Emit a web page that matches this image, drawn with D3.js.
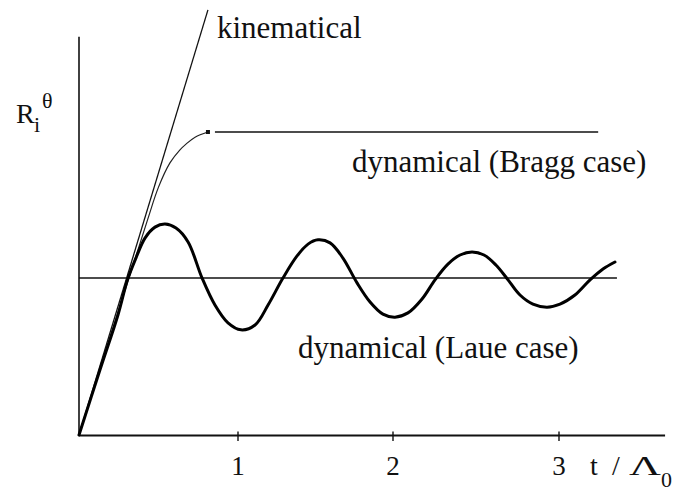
<!DOCTYPE html>
<html>
<head>
<meta charset="utf-8">
<script src="https://cdn.jsdelivr.net/npm/d3@7"></script>
<style>
  .lbl { font-family: "Liberation Serif", "Times New Roman", serif; fill: #111; }
</style>
</head>
<body style="margin:0">
<svg id="chart" width="674" height="488"></svg>
<script>
// Integrated reflectivity vs. crystal thickness t / Λ0

// x-axis ticks (thickness in units of extinction length)
const xTicks = [1, 2, 3];
const xTickLabels = ["1", "2", "3"];

// kinematical approximation: straight line growth
const kinT = [0, 0.811];
const kinR = [0, 1.403];

// dynamical, Bragg case: saturates at R = 1
const braggT = [0, 0.151, 0.314, 0.431, 0.500, 0.572, 0.635, 0.673, 0.730, 0.811];
const braggR = [0, 0.248, 0.518, 0.710, 0.818, 0.898, 0.941, 0.960, 0.983, 1.000];
const plateauT = [0.855, 3.236];
const plateauR = [1.0, 1.0];

// dynamical, Laue case: oscillates about the mean level (Pendellösung)
const laueT = [0, 0.132, 0.245, 0.305, 0.358, 0.415, 0.478, 0.541, 0.610, 0.686,
  0.774, 0.855, 0.937, 1.019, 1.110, 1.194, 1.290, 1.381, 1.452, 1.516,
  1.594, 1.677, 1.768, 1.852, 1.935, 2.012, 2.090, 2.175, 2.253, 2.331,
  2.404, 2.476, 2.548, 2.620, 2.693, 2.765, 2.843, 2.928, 3.006, 3.096,
  3.187, 3.265, 3.337];
const laueR = [0, 0.215, 0.396, 0.512, 0.584, 0.650, 0.686, 0.696, 0.683, 0.637,
  0.518, 0.429, 0.370, 0.347, 0.363, 0.429, 0.518, 0.591, 0.630, 0.644,
  0.634, 0.584, 0.502, 0.439, 0.399, 0.389, 0.403, 0.449, 0.512, 0.564,
  0.594, 0.604, 0.594, 0.561, 0.512, 0.462, 0.432, 0.422, 0.432, 0.462,
  0.512, 0.548, 0.571];
const meanT = [0, 3.349];
const meanR = [0.518, 0.518];

// axis extents
const xAxisMax = 3.639;
const yAxisMax = 1.314;

const svg = d3.select("#chart");

const x = d3.scaleLinear().domain([0, 1, 2, 3]).range([79, 238, 393, 559]);
const y = d3.scaleLinear().domain([0, 1]).range([435, 132]);

const zip = (ts, rs) => ts.map((t, i) => [t, rs[i]]);
const lineStraight = d3.line().x(d => x(d[0])).y(d => y(d[1]));
const lineSmooth = d3.line().x(d => x(d[0])).y(d => y(d[1])).curve(d3.curveCatmullRom.alpha(0.5));

function label(xp, yp, size, str) {
  return svg.append("text")
    .attr("class", "lbl")
    .attr("x", xp).attr("y", yp)
    .attr("font-size", size)
    .text(str);
}

// axes
svg.append("line")
  .attr("x1", x(0)).attr("x2", x(0))
  .attr("y1", y(0)).attr("y2", y(yAxisMax))
  .attr("stroke", "#111").attr("stroke-width", 1.6);
svg.append("line")
  .attr("x1", x(0)).attr("x2", x(xAxisMax))
  .attr("y1", y(0) + 0.5).attr("y2", y(0) + 0.5)
  .attr("stroke", "#111").attr("stroke-width", 1.8);

const ticks = svg.append("g");
ticks.selectAll("line").data(xTicks).join("line")
  .attr("x1", d => x(d)).attr("x2", d => x(d))
  .attr("y1", y(0) - 3.5).attr("y2", y(0) + 6)
  .attr("stroke", "#111").attr("stroke-width", 1.4);
xTicks.forEach((d, i) => {
  label(x(d), 475, 27, xTickLabels[i]).attr("text-anchor", "middle");
});

// curves
svg.append("path").datum(zip(kinT, kinR))
  .attr("d", lineStraight).attr("fill", "none")
  .attr("stroke", "#111").attr("stroke-width", 1.3);

svg.append("path").datum(zip(braggT, braggR))
  .attr("d", lineSmooth).attr("fill", "none")
  .attr("stroke", "#222").attr("stroke-width", 1.2);
svg.append("rect")
  .attr("x", x(braggT[braggT.length - 1]) - 2).attr("y", y(braggR[braggR.length - 1]) - 2)
  .attr("width", 4).attr("height", 4).attr("fill", "#111");
svg.append("path").datum(zip(plateauT, plateauR))
  .attr("d", lineStraight).attr("fill", "none")
  .attr("stroke", "#111").attr("stroke-width", 1.5);

svg.append("path").datum(zip(meanT, meanR))
  .attr("d", lineStraight).attr("fill", "none")
  .attr("stroke", "#111").attr("stroke-width", 1.5);

svg.append("path").datum(zip(laueT, laueR))
  .attr("d", lineSmooth).attr("fill", "none")
  .attr("stroke", "#000").attr("stroke-width", 3)
  .attr("stroke-linejoin", "round").attr("stroke-linecap", "round");

// curve labels
label(217, 38, 31, "kinematical");
label(352, 172, 31, "dynamical (Bragg case)");
label(298, 358, 31, "dynamical (Laue case)");

// y-axis label R_i^θ
label(16, 123, 28, "R");
label(34, 132, 22, "i");
label(42, 108, 22, "θ");

// x-axis label t / Λ0
label(590, 475, 28, "t");
label(612, 475, 28, "/");
label(629, 475, 28, "Λ")
  .attr("textLength", 32).attr("lengthAdjust", "spacingAndGlyphs");
label(661, 487, 22, "0");
</script>
</body>
</html>
